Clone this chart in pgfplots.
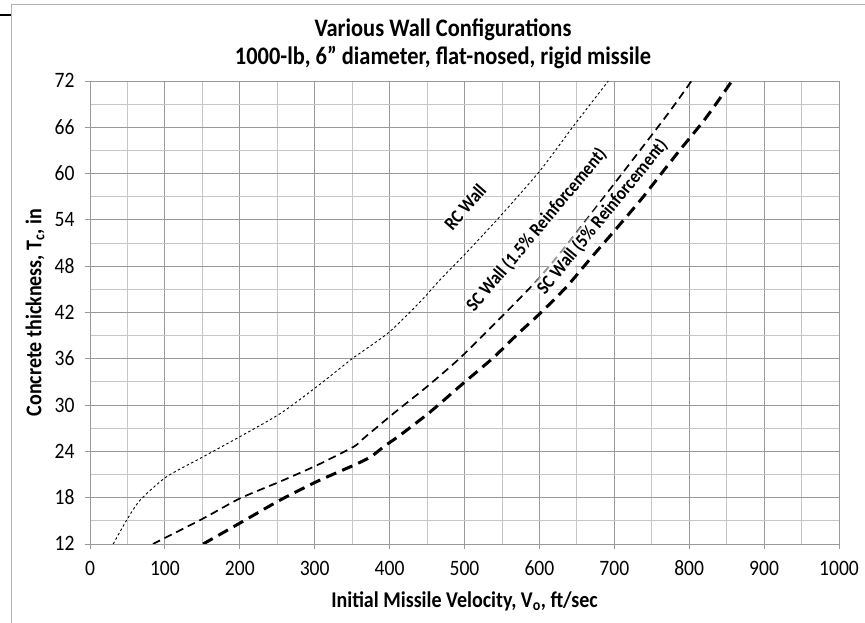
\documentclass[border=0pt]{standalone}
\usepackage{fontspec}
\setmainfont{Carlito}[FakeStretch=0.89]
\usepackage{pgfplots}
\pgfplotsset{compat=1.18}
\begin{document}
\begin{tikzpicture}
\useasboundingbox (0pt,0pt) rectangle (865pt,623pt);
\draw[gray!60, line width=1pt] (11pt,0pt) -- (11pt,618pt) -- (865pt,618pt);
\draw[black, line width=1.5pt] (0pt,608pt) -- (11pt,608pt);
\begin{axis}[
  at={(90pt,79pt)}, anchor=south west,
  scale only axis, width=749pt, height=463pt,
  xmin=0, xmax=1000, ymin=12, ymax=72,
  xtick distance=100, ytick={12,18,...,72},
  minor x tick num=1, minor y tick num=1,
  grid=both,
  major grid style={gray!80, line width=0.9pt},
  minor grid style={gray!45, line width=0.9pt},
  axis line style={gray!80, line width=0.9pt},
  tick style={gray!80, line width=0.9pt},
  major tick length=5pt, minor tick length=0pt,
  tick align=outside, tick pos=left,
  /pgf/number format/assume math mode=true,
  /pgf/number format/1000 sep={},
  tick label style={font=\fontsize{22}{26}\selectfont, black},
  xticklabel style={text height=14pt, text depth=0pt, anchor=north, yshift=-9pt},
  yticklabel style={text height=14pt, text depth=0pt, xshift=-7pt},
  title={Various Wall Configurations\\1000-lb, 6" diameter, flat-nosed, rigid missile},
  title style={at={(axis description cs:0.4713,1.067)}, anchor=center, align=center, font=\bfseries\fontsize{25.2}{28}\selectfont},
  xlabel={Initial Missile Velocity, V\textsubscript{o}, ft/sec},
  ylabel={Concrete thickness, T\textsubscript{c}, in},
  xlabel style={at={(axis description cs:0.5,-0.1231)}, anchor=center, font=\bfseries\fontsize{22.5}{26}\selectfont},
  ylabel style={at={(axis description cs:-0.0734,0.5)}, anchor=center, font=\bfseries\fontsize{22.5}{26}\selectfont},
]
\addplot[black, line width=0.9pt, dash pattern=on 2.5pt off 2.5pt, smooth, tension=0.4] coordinates {
 (31,12) (49,15.1) (67,17.7) (102,20.7) (151,23.3) (200,25.9) (254,28.9) (303,32.4) (351,36.1) (363,36.9) (400,39.5) (441,43.4) (467,46.2) (503,49.8) (547,54.4) (601,60.4) (645,66.1) (692,72)
};
\addplot[black, line width=1.7pt, dash pattern=on 8pt off 5pt, smooth, tension=0.4] coordinates {
 (84,12) (151,15.3) (200,17.9) (254,20.1) (303,22.2) (352,24.6) (363,25.5) (405,28.9) (450,32.4) (494,36.1) (547,41.2) (601,46.6) (645,51.8) (765,66.9) (803,72)
};
\addplot[black, line width=3pt, dash pattern=on 11pt off 6.5pt, smooth, tension=0.4] coordinates {
 (151,12) (200,14.7) (254,17.7) (303,20.1) (352,22.2) (375,23.3) (392,24.6) (414,26.1) (454,29.1) (498,32.8) (538,36.1) (572,39.3) (600,41.8) (636,45.3) (670,49.2) (703,52.9) (737,56.8) (770,60.9) (788,63.1) (819,66.8) (837,69.2) (857,72)
};
\node[rotate=49, font=\bfseries\fontsize{18.9}{22}\selectfont, fill=white, fill opacity=0.6, text opacity=1, inner sep=1pt] at (axis cs:500.7,55.7) {RC Wall};
\node[rotate=50, font=\bfseries\fontsize{18.9}{22}\selectfont, fill=white, fill opacity=0.6, text opacity=1, inner sep=1pt] at (axis cs:596.3,52.7) {SC Wall (1.5\% Reinforcement)};
\node[rotate=50.6, font=\bfseries\fontsize{18.9}{22}\selectfont, fill=white, fill opacity=0.6, text opacity=1, inner sep=2pt] at (axis cs:684,54.4) {SC Wall (5\% Reinforcement)};
\end{axis}
\end{tikzpicture}
\end{document}
